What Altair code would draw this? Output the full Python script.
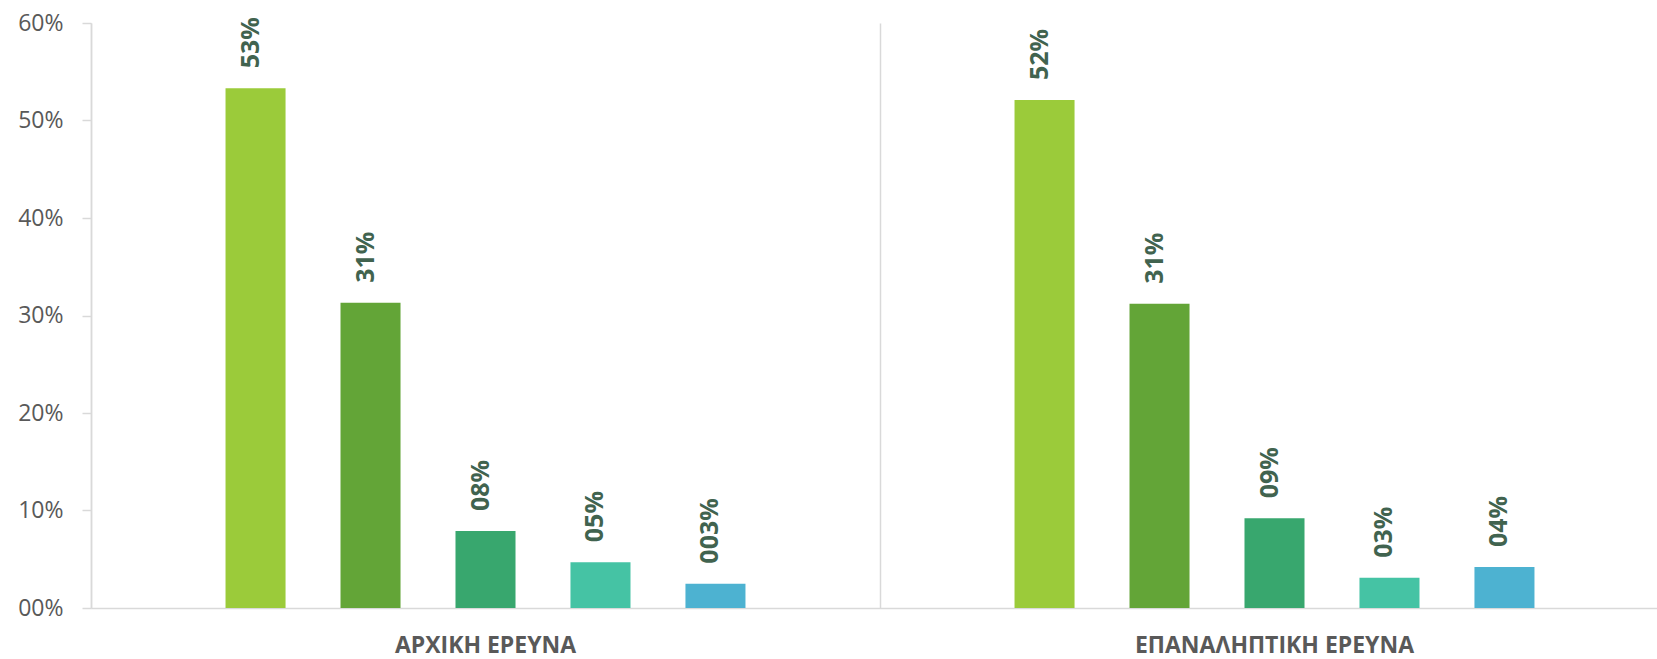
import altair as alt
import pandas as pd

groups = ["ΑΡΧΙΚΗ ΕΡΕΥΝΑ", "ΕΠΑΝΑΛΗΠΤΙΚΗ ΕΡΕΥΝΑ"]
series = ["Σ1", "Σ2", "Σ3", "Σ4", "Σ5"]
colors = ["#9BCB3A", "#63A537", "#38A76E", "#45C3A4", "#4DB2D1"]
values_initial = [0.533, 0.313, 0.079, 0.047, 0.025]
values_repeat = [0.521, 0.312, 0.092, 0.031, 0.042]
labels_initial = ["53%", "31%", "08%", "05%", "003%"]
labels_repeat = ["52%", "31%", "09%", "03%", "04%"]
y_ticks = [0, 0.1, 0.2, 0.3, 0.4, 0.5, 0.6]

rows = []
for g, vals, labs in [(groups[0], values_initial, labels_initial),
                      (groups[1], values_repeat, labels_repeat)]:
    for s, v, l in zip(series, vals, labs):
        rows.append({"group": g, "series": s, "value": v, "label": l})
df = pd.DataFrame(rows)

FONT = "Open Sans"
offset_domain = ["_pad_start"] + series + ["_pad_end"]

base = alt.Chart(df).encode(
    x=alt.X("group:N", sort=groups, title=None,
            scale=alt.Scale(range=[0, 1578], paddingInner=0, paddingOuter=0),
            axis=alt.Axis(labelAngle=0, ticks=False, grid=True, bandPosition=0,
                          gridColor="#d9d9d9", gridWidth=1.5,
                          domainColor="#d9d9d9", domainWidth=1.5,
                          labelFont=FONT, labelFontSize=23, labelFontWeight="bold",
                          labelColor="#595959", labelPadding=26, labelLimit=0)),
    xOffset=alt.XOffset("series:N",
                        scale=alt.Scale(domain=offset_domain, paddingInner=0.478,
                                        paddingOuter=0.17)),
    y=alt.Y("value:Q", title=None,
            scale=alt.Scale(domain=[0, 0.6], nice=False),
            axis=alt.Axis(values=y_ticks, format="03.0%", grid=False,
                          domainColor="#d9d9d9", domainWidth=1.5,
                          tickColor="#d9d9d9", tickSize=9, tickWidth=1.5,
                          labelFont=FONT, labelFontSize=23, labelColor="#595959",
                          labelPadding=19)),
)

bars = base.mark_bar().encode(
    color=alt.Color("series:N", sort=series,
                    scale=alt.Scale(domain=series, range=colors), legend=None)
)

text = base.mark_text(angle=270, align="left", baseline="alphabetic",
                      dx=20, dy=3, font=FONT, fontSize=25, fontWeight="bold",
                      color="#41634F").encode(text="label:N")

chart = (bars + text).properties(
    width=1566, height=585,
    autosize=alt.AutoSizeParams(type="none"),
    padding={"left": 91, "top": 23, "right": 0, "bottom": 51},
    background="white",
).configure_view(strokeWidth=0)

chart.save("out.html", embed_options={"renderer": "svg", "actions": False})
